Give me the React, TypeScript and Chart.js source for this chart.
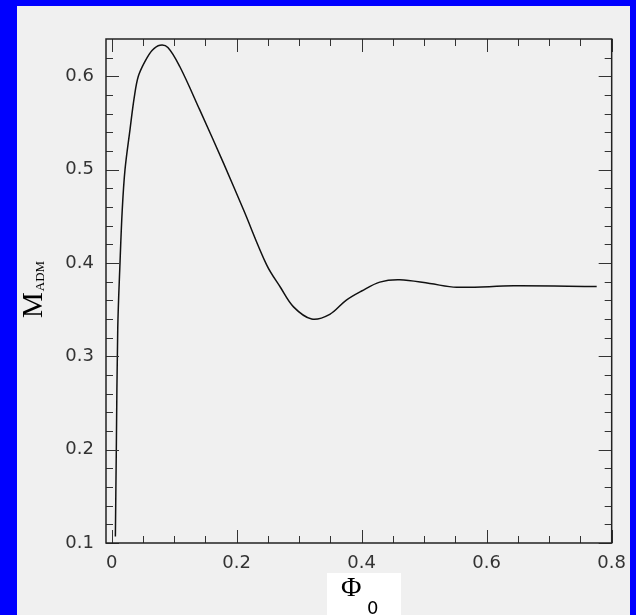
import React, { useEffect, useRef } from "react";
import { Chart, registerables } from "chart.js";

Chart.register(...registerables);

// Φ0 (x) and M_ADM (y)
const phi0 = [
  0.006, 0.0075, 0.0098, 0.0134, 0.017, 0.0214, 0.0294, 0.0363, 0.0427, 0.0534,
  0.065, 0.0774, 0.09, 0.109, 0.141, 0.179, 0.211, 0.248, 0.27, 0.291, 0.32,
  0.349, 0.375, 0.4, 0.429, 0.461, 0.509, 0.552, 0.643, 0.776,
];
const madm = [
  0.107, 0.2, 0.33, 0.4, 0.457, 0.5, 0.543, 0.578, 0.6, 0.616,
  0.628, 0.6334, 0.631, 0.6105, 0.564, 0.507, 0.457, 0.398, 0.374, 0.353, 0.34,
  0.345, 0.36, 0.37, 0.3795, 0.382, 0.378, 0.374, 0.3755, 0.3747,
];

const xMajorTicks = [0, 0.2, 0.4, 0.6, 0.8];
const xMinorTicks = [0.05, 0.1, 0.15, 0.25, 0.3, 0.35, 0.45, 0.5, 0.55, 0.65, 0.7, 0.75];
const yMajorTicks = [0.1, 0.2, 0.3, 0.4, 0.5, 0.6];
const yMinorTicks = [
  0.12, 0.14, 0.16, 0.18, 0.22, 0.24, 0.26, 0.28, 0.32, 0.34, 0.36, 0.38,
  0.42, 0.44, 0.46, 0.48, 0.52, 0.54, 0.56, 0.58, 0.62,
];
const xTickLabels = ["0", "0.2", "0.4", "0.6", "0.8"];
const yTickLabels = ["0.1", "0.2", "0.3", "0.4", "0.5", "0.6"];

const xRange = [-0.009, 0.8];
const yRange = [0.1, 0.64];

const framePlugin = {
  id: "framePlugin",
  afterDatasetsDraw(chart: any) {
    const ctx = chart.ctx;
    const xs = chart.scales.x;
    const ys = chart.scales.y;
    const { left, right, top, bottom } = chart.chartArea;
    ctx.save();
    ctx.strokeStyle = "#333";
    ctx.lineWidth = 1;
    ctx.beginPath();
    const major = 13;
    const minor = 7;
    xMajorTicks.forEach((v) => {
      const p = Math.round(xs.getPixelForValue(v)) + 0.5;
      ctx.moveTo(p, bottom); ctx.lineTo(p, bottom - major);
      ctx.moveTo(p, top); ctx.lineTo(p, top + major);
    });
    xMinorTicks.forEach((v) => {
      const p = Math.round(xs.getPixelForValue(v)) + 0.5;
      ctx.moveTo(p, bottom); ctx.lineTo(p, bottom - minor);
      ctx.moveTo(p, top); ctx.lineTo(p, top + minor);
    });
    yMajorTicks.forEach((v) => {
      const p = Math.round(ys.getPixelForValue(v)) + 0.5;
      ctx.moveTo(left, p); ctx.lineTo(left + major, p);
      ctx.moveTo(right, p); ctx.lineTo(right - major, p);
    });
    yMinorTicks.forEach((v) => {
      const p = Math.round(ys.getPixelForValue(v)) + 0.5;
      ctx.moveTo(left, p); ctx.lineTo(left + minor, p);
      ctx.moveTo(right, p); ctx.lineTo(right - minor, p);
    });
    ctx.stroke();
    ctx.strokeStyle = "#222";
    ctx.lineWidth = 1.5;
    ctx.strokeRect(left, top, right - left, bottom - top);

    // x-axis title on white box
    ctx.fillStyle = "#ffffff";
    ctx.fillRect(327, 573, 74, 42);
    ctx.fillStyle = "#000";
    ctx.textBaseline = "alphabetic";
    ctx.textAlign = "left";
    ctx.font = "28px 'Liberation Serif'";
    ctx.fillText("Φ", 341, 595.5);
    ctx.font = "18px 'DejaVu Sans'";
    ctx.fillText("0", 367, 613.5);

    // y-axis title rotated
    ctx.translate(42, 318);
    ctx.rotate(-Math.PI / 2);
    ctx.font = "29px 'Liberation Serif'";
    ctx.fillText("M", 0, 0);
    const mw = ctx.measureText("M").width;
    ctx.font = "13px 'Liberation Serif'";
    ctx.fillText("ADM", mw + 1, 1.5);
    ctx.restore();
  },
};

export default function App() {
  const ref = useRef<HTMLCanvasElement>(null);
  useEffect(() => {
    document.body.style.margin = "0";
    const pts = phi0.map((x, i) => ({ x, y: madm[i] }));
    const chart = new Chart(ref.current as HTMLCanvasElement, {
      type: "line",
      data: {
        datasets: [
          {
            data: pts,
            borderColor: "#111",
            borderWidth: 1.5,
            pointRadius: 0,
            fill: false,
            tension: 0.35,
          },
        ],
      },
      options: {
        animation: false,
        responsive: false,
        events: [],
        layout: { padding: { left: 0, right: 24, top: 39, bottom: 0 } },
        plugins: { legend: { display: false }, tooltip: { enabled: false } },
        scales: {
          x: {
            type: "linear",
            min: xRange[0],
            max: xRange[1],
            grid: { display: false, drawTicks: false },
            border: { display: false },
            afterBuildTicks: (s: any) => {
              s.ticks = xMajorTicks.map((v) => ({ value: v }));
            },
            afterFit: (s: any) => {
              s.height = 72;
            },
            ticks: {
              padding: 10,
              color: "#333",
              font: { family: "'DejaVu Sans'", size: 18 },
              maxRotation: 0,
              callback: (v: any) => {
                const i = xMajorTicks.findIndex((t) => Math.abs(t - v) < 1e-9);
                return i >= 0 ? xTickLabels[i] : "";
              },
            },
          },
          y: {
            type: "linear",
            min: yRange[0],
            max: yRange[1],
            grid: { display: false, drawTicks: false },
            border: { display: false },
            afterBuildTicks: (s: any) => {
              s.ticks = yMajorTicks.map((v) => ({ value: v }));
            },
            afterFit: (s: any) => {
              s.width = 106;
            },
            ticks: {
              padding: 12,
              color: "#333",
              font: { family: "'DejaVu Sans'", size: 18 },
              callback: (v: any) => {
                const i = yMajorTicks.findIndex((t) => Math.abs(t - v) < 1e-9);
                return i >= 0 ? yTickLabels[i] : "";
              },
            },
          },
        },
      },
      plugins: [framePlugin],
    } as any);
    return () => chart.destroy();
  }, []);

  return (
    <div style={{ position: "relative", width: 636, height: 615, background: "#0000ff" }}>
      <div
        style={{
          position: "absolute",
          left: 17,
          top: 6,
          width: 613,
          height: 609,
          background: "#f0f0f0",
        }}
      />
      <canvas
        ref={ref}
        width={636}
        height={615}
        style={{ position: "absolute", left: 0, top: 0, width: 636, height: 615 }}
      />
    </div>
  );
}
